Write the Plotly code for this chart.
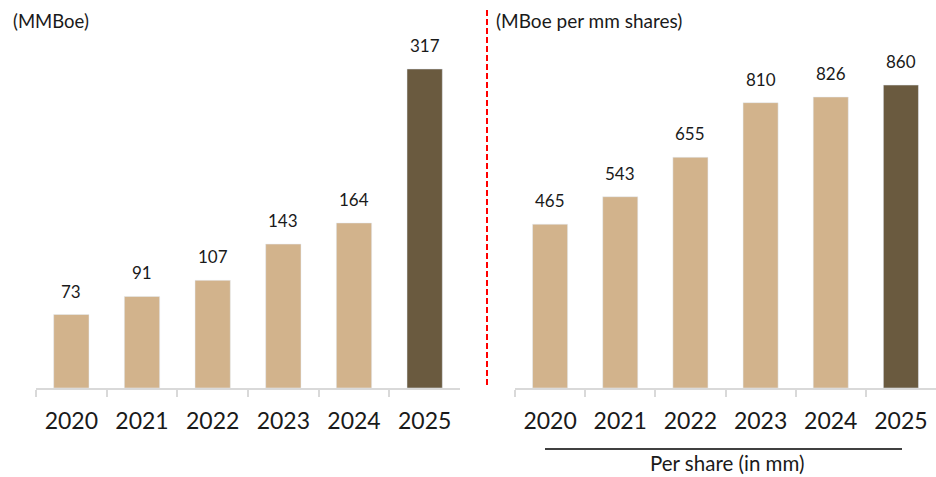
import plotly.graph_objects as go

years = ["2020", "2021", "2022", "2023", "2024", "2025"]
mmboe = [73, 91, 107, 143, 164, 317]
per_share = [465, 543, 655, 810, 826, 860]

TAN = "#D2B38C"
DARK = "#6A5A3F"
colors = [TAN, TAN, TAN, TAN, TAN, DARK]
FONT = "Lato"
TXT = "#1a1a1a"

W, H = 936, 477
def py(p):
    return 1 - p / H
def px(p):
    return p / W

fig = go.Figure()
fig.add_trace(go.Bar(x=years, y=mmboe, marker_color=colors, width=0.5,
                     xaxis="x", yaxis="y", hoverinfo="skip"))
fig.add_trace(go.Bar(x=years, y=per_share, marker_color=colors, width=0.5,
                     xaxis="x2", yaxis="y2", hoverinfo="skip"))

annotations = []
for i, yv in enumerate(mmboe):
    annotations.append(dict(x=i, y=yv, xref="x", yref="y", text=str(yv), showarrow=False,
                            yanchor="bottom", yshift=11, font=dict(family=FONT, size=17, color=TXT)))
for i, yv in enumerate(per_share):
    annotations.append(dict(x=i, y=yv, xref="x2", yref="y2", text=str(yv), showarrow=False,
                            yanchor="bottom", yshift=11, font=dict(family=FONT, size=17, color=TXT)))

annotations += [
    dict(x=px(11), y=py(21), xref="paper", yref="paper", text="(MMBoe)", showarrow=False,
         xanchor="left", yanchor="middle", font=dict(family=FONT, size=18.5, color=TXT)),
    dict(x=px(494), y=py(21), xref="paper", yref="paper", text="(MBoe per mm shares)", showarrow=False,
         xanchor="left", yanchor="middle", font=dict(family=FONT, size=19, color=TXT)),
    dict(x=px(727), y=py(463), xref="paper", yref="paper", text="Per share (in mm)", showarrow=False,
         xanchor="center", yanchor="middle", font=dict(family=FONT, size=20.5, color=TXT)),
]

shapes = [
    dict(type="line", xref="paper", yref="paper", x0=px(487), x1=px(487), y0=py(10), y1=py(386),
         line=dict(color="#FF0000", width=2, dash="6px,3px")),
    dict(type="line", xref="paper", yref="paper", x0=px(545), x1=px(902), y0=py(449), y1=py(449),
         line=dict(color="#000000", width=1.5)),
]

xcommon = dict(type="category", range=[-0.5, 5.5], showline=True, linecolor="#D9D9D9", linewidth=2,
               ticks="outside", tickson="boundaries", ticklen=7, tickcolor="#D9D9D9", tickwidth=2,
               tickangle=0, ticklabelstandoff=11,
               tickfont=dict(family=FONT, size=23, color=TXT), showgrid=False, zeroline=False,
               fixedrange=True)

fig.update_layout(
    width=W, height=H, margin=dict(l=0, r=0, t=0, b=0),
    paper_bgcolor="white", plot_bgcolor="white", showlegend=False, bargap=0.5,
    xaxis=dict(domain=[px(36), px(460)], anchor="y", **xcommon),
    xaxis2=dict(domain=[px(515), px(936)], anchor="y2", **xcommon),
    yaxis=dict(domain=[py(388), py(10)], range=[0, 375.6], visible=False, anchor="x", fixedrange=True),
    yaxis2=dict(domain=[py(388), py(10)], range=[0, 1073], visible=False, anchor="x2", fixedrange=True),
    annotations=annotations, shapes=shapes,
)

fig.write_html("out.html", config={"displayModeBar": False},
               post_script="document.body.style.margin='0';document.body.style.overflow='hidden';")
